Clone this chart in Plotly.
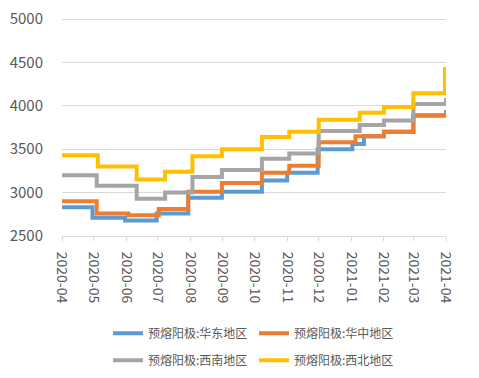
import plotly.graph_objects as go

# step-change dates and values (price holds until next date)
east_dates = ["2020-04-01", "2020-04-30", "2020-05-31", "2020-06-30", "2020-07-30", "2020-08-31",
              "2020-10-08", "2020-11-01", "2020-11-30", "2021-01-02", "2021-01-13", "2021-02-01",
              "2021-03-01", "2021-04-01"]
east_vals = [2830, 2710, 2680, 2760, 2940, 3010, 3140, 3230, 3500, 3560, 3650, 3700, 3890, 3950]

central_dates = ["2020-04-01", "2020-05-04", "2020-06-03", "2020-07-02", "2020-07-30", "2020-08-31",
                 "2020-10-08", "2020-11-03", "2020-12-01", "2021-01-05", "2021-02-01", "2021-03-01",
                 "2021-04-01"]
central_vals = [2900, 2760, 2740, 2810, 3010, 3110, 3230, 3310, 3580, 3650, 3700, 3885, 3950]

southwest_dates = ["2020-04-01", "2020-05-04", "2020-06-11", "2020-07-08", "2020-08-03", "2020-08-31",
                   "2020-10-08", "2020-11-03", "2020-12-01", "2021-01-09", "2021-02-01", "2021-03-01",
                   "2021-04-01"]
southwest_vals = [3200, 3080, 2930, 3000, 3180, 3260, 3390, 3450, 3710, 3780, 3830, 4020, 4090]

northwest_dates = ["2020-04-01", "2020-05-05", "2020-06-11", "2020-07-08", "2020-08-03", "2020-08-31",
                   "2020-10-08", "2020-11-03", "2020-12-01", "2021-01-09", "2021-02-01", "2021-03-01",
                   "2021-03-31", "2021-04-01"]
northwest_vals = [3430, 3300, 3150, 3240, 3420, 3500, 3640, 3700, 3840, 3920, 3985, 4145, 4425, 4425]

series_names = ["预熔阳极:华东地区", "预熔阳极:华中地区", "预熔阳极:西南地区", "预熔阳极:西北地区"]
colors = ["#5B9BD5", "#ED7D31", "#A5A5A5", "#FFC000"]

month_ticks = ["2020-04-01", "2020-05-01", "2020-06-01", "2020-07-01", "2020-08-01", "2020-09-01",
               "2020-10-01", "2020-11-01", "2020-12-01", "2021-01-01", "2021-02-01", "2021-03-01",
               "2021-04-01"]
month_labels = ["2020-04", "2020-05", "2020-06", "2020-07", "2020-08", "2020-09", "2020-10",
                "2020-11", "2020-12", "2021-01", "2021-02", "2021-03", "2021-04"]
y_ticks = [2500, 3000, 3500, 4000, 4500, 5000]

FONT = "Noto Sans CJK SC, Noto Sans, sans-serif"

fig = go.Figure()
data = [(east_dates, east_vals), (central_dates, central_vals),
        (southwest_dates, southwest_vals), (northwest_dates, northwest_vals)]
legends = ["legend", "legend", "legend2", "legend2"]
for (d, v), name, c, lg in zip(data, series_names, colors, legends):
    fig.add_trace(go.Scatter(x=d, y=v, name=name, mode="lines",
                             line=dict(color=c, width=4, shape="hv"),
                             legend=lg))

fig.update_layout(
    width=471, height=370,
    margin=dict(l=54, r=33, t=9, b=142, autoexpand=False),
    paper_bgcolor="white", plot_bgcolor="white",
    font=dict(family=FONT, color="#595959"),
    showlegend=True,
    legend=dict(orientation="h", x=0.5, xanchor="center", y=-0.378, yanchor="top",
                font=dict(size=12, color="#595959"), entrywidth=101,
                bgcolor="rgba(0,0,0,0)"),
    legend2=dict(orientation="h", x=0.5, xanchor="center", y=-0.501, yanchor="top",
                 font=dict(size=12, color="#595959"), entrywidth=101,
                 bgcolor="rgba(0,0,0,0)"),
)
fig.update_xaxes(
    type="date", range=["2020-04-01", "2021-04-01"],
    tickvals=month_ticks, ticktext=month_labels, tickangle=90,
    tickfont=dict(size=14, color="#595959"),
    showgrid=False, showline=True, linecolor="#d9d9d9", linewidth=1,
    ticks="outside", ticklen=4, tickcolor="#d9d9d9",
    zeroline=False, automargin=False, ticklabelstandoff=8,
    ticklabeloverflow="allow",
)
fig.update_yaxes(
    range=[2500, 5023], tickvals=y_ticks,
    tickfont=dict(size=15, color="#595959"),
    showgrid=True, gridcolor="#d9d9d9", gridwidth=1,
    showline=False, zeroline=False, ticks="", ticklabelstandoff=18,
    automargin=False, ticklabeloverflow="allow",
)

fig.write_html("out.html")
